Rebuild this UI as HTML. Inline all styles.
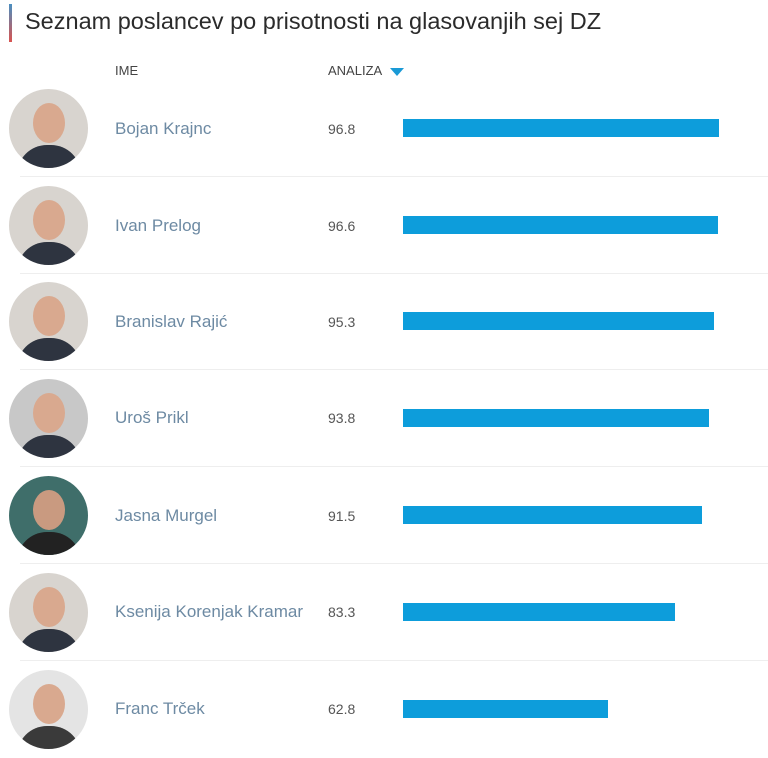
<!DOCTYPE html>
<html><head><meta charset="utf-8"><style>
body{margin:0;width:768px;height:753px;background:#fff;font-family:"Liberation Sans",sans-serif;position:relative;overflow:hidden}
.bar0{position:absolute;left:9px;top:4px;width:3px;height:38px;background:linear-gradient(#4a8fc0,#d9534f)}
.title{position:absolute;left:25px;top:8px;font-size:23.5px;color:#2b2b2b}
.h{position:absolute;top:63px;font-size:13px;color:#444}
.tri{display:inline-block;width:0;height:0;border-left:7px solid transparent;border-right:7px solid transparent;border-top:8px solid #1a9ad6;margin-left:8px;vertical-align:middle}
.row{position:absolute;left:0;width:768px;height:97px}
.av{position:absolute;left:9px;top:9px;width:79px;height:79px;border-radius:50%;overflow:hidden;background:#d8d4cf}
.face{position:absolute;left:24px;top:14px;width:32px;height:40px;border-radius:50%;background:#d9a98f}
.body{position:absolute;left:8px;top:56px;width:64px;height:40px;border-radius:30px 30px 0 0;background:#2e3440}
.name{position:absolute;left:115px;font-size:17px;color:#6d8aa3}
.val{position:absolute;left:328px;font-size:14px;color:#555}
.bar{position:absolute;left:403px;height:18px;background:#0d9ddb}
.sep{position:absolute;left:20px;right:0;bottom:0;height:1px;background:#eee}
</style></head><body>
<div class="bar0"></div>
<div class="title">Seznam poslancev po prisotnosti na glasovanjih sej DZ</div>
<div class="h" style="left:115px">IME</div>
<div class="h" style="left:328px">ANALIZA<span class="tri"></span></div>

<div class="row" style="top:80px"><div class="av"><div class="face"></div><div class="body"></div></div><div class="name" style="top:39px">Bojan Krajnc</div><div class="val" style="top:41px">96.8</div><div class="bar" style="top:39px;width:316px"></div><div class="sep"></div></div>
<div class="row" style="top:177px"><div class="av"><div class="face"></div><div class="body"></div></div><div class="name" style="top:39px">Ivan Prelog</div><div class="val" style="top:41px">96.6</div><div class="bar" style="top:39px;width:315px"></div><div class="sep"></div></div>
<div class="row" style="top:273px"><div class="av"><div class="face"></div><div class="body"></div></div><div class="name" style="top:39px">Branislav Rajić</div><div class="val" style="top:41px">95.3</div><div class="bar" style="top:39px;width:311px"></div><div class="sep"></div></div>
<div class="row" style="top:370px"><div class="av" style="background:#c8c8c8"><div class="face"></div><div class="body"></div></div><div class="name" style="top:38px">Uroš Prikl</div><div class="val" style="top:40px">93.8</div><div class="bar" style="top:39px;width:306px"></div><div class="sep"></div></div>
<div class="row" style="top:467px"><div class="av" style="background:#3f6e6a"><div class="face" style="background:#c99a80"></div><div class="body" style="background:#222"></div></div><div class="name" style="top:39px">Jasna Murgel</div><div class="val" style="top:41px">91.5</div><div class="bar" style="top:39px;width:299px"></div><div class="sep"></div></div>
<div class="row" style="top:564px"><div class="av"><div class="face"></div><div class="body"></div></div><div class="name" style="top:38px">Ksenija Korenjak Kramar</div><div class="val" style="top:40px">83.3</div><div class="bar" style="top:39px;width:272px"></div><div class="sep"></div></div>
<div class="row" style="top:661px"><div class="av" style="background:#e4e4e4"><div class="face"></div><div class="body" style="background:#3a3a3a"></div></div><div class="name" style="top:38px">Franc Trček</div><div class="val" style="top:40px">62.8</div><div class="bar" style="top:39px;width:205px"></div></div>
</body></html>
